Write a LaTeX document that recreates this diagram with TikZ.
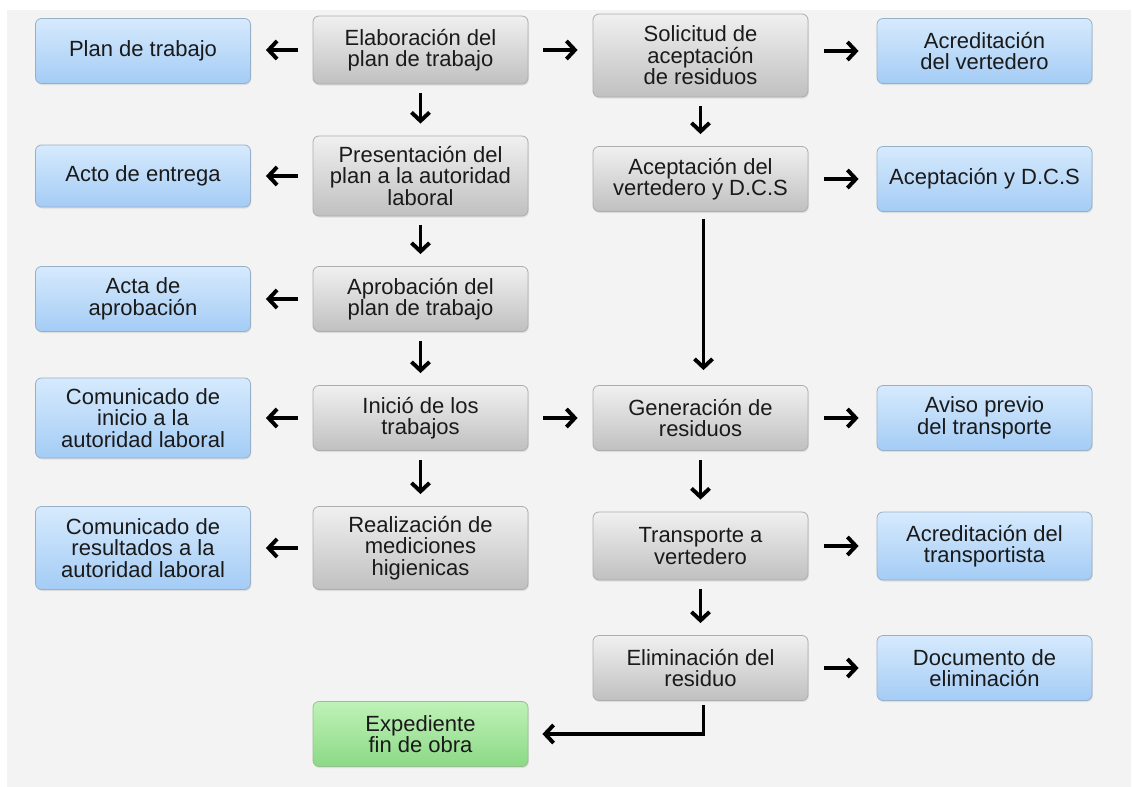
\documentclass[tikz,border=0pt]{standalone}
\usepackage{fontspec}
\setmainfont{Liberation Sans}
\usetikzlibrary{arrows.meta,shadows}
\definecolor{bgc}{HTML}{F3F3F3}
\definecolor{txt}{HTML}{1A1A1A}
\definecolor{bluetop}{HTML}{D6EAFD}
\definecolor{bluebot}{HTML}{A4CCF5}
\definecolor{bluedraw}{HTML}{98AFC8}
\definecolor{graytop}{HTML}{F0F0F0}
\definecolor{graybot}{HTML}{C0C0C0}
\definecolor{graydraw}{HTML}{ADADAD}
\definecolor{greentop}{HTML}{BFF2B8}
\definecolor{greenbot}{HTML}{8CD985}
\definecolor{greendraw}{HTML}{95C08F}
\begin{document}
\begin{tikzpicture}[x=1pt,y=-1pt,
  box/.style={rounded corners=6pt, minimum width=215pt, minimum height=65pt,
    inner sep=0pt, align=center, font=\fontsize{22}{21.5}\selectfont,
    text=txt, line width=0.8pt,
    drop shadow={opacity=0.18, shadow xshift=0.8pt, shadow yshift=-1.5pt}},
  bluebox/.style={box, draw=bluedraw, top color=bluetop, bottom color=bluebot},
  graybox/.style={box, draw=graydraw, top color=graytop, bottom color=graybot},
  greenbox/.style={box, draw=greendraw, top color=greentop, bottom color=greenbot},
  arr/.style={line width=3.9pt, -{Straight Barb[length=8.5pt,width=18pt]}},
  harr/.style={arr, shorten <=15pt, shorten >=15pt},
  varr/.style={arr, shorten <=9pt, shorten >=12pt}
]
\useasboundingbox (0,0) rectangle (1133,787);
\fill[white] (0,0) rectangle (1133,787);
\fill[bgc] (7,10) rectangle (1131,787);

% row 1
\node[bluebox] (plan) at (143,51) {Plan de trabajo};
\node[graybox, minimum height=68pt] (elab) at (420.5,50) {Elaboración del\\plan de trabajo};
\node[graybox, minimum height=83pt] (soli) at (700.5,55.5) {Solicitud de\\aceptación\\de residuos};
\node[bluebox] (acre) at (984.5,51) {Acreditación\\del vertedero};
% row 2
\node[bluebox, minimum height=62pt] (acto) at (143,176) {Acto de entrega};
\node[graybox, minimum height=80pt] (pres) at (420.5,176) {Presentación del\\plan a la autoridad\\laboral};
\node[graybox] (acev) at (700.5,179) {Aceptación del\\vertedero y D.C.S};
\node[bluebox] (acdcs) at (984.5,179) {Aceptación y D.C.S};
% row 3
\node[bluebox] (acta) at (143,299) {Acta de\\aprobación};
\node[graybox] (apro) at (420.5,299) {Aprobación del\\plan de trabajo};
% row 4
\node[bluebox, minimum height=80pt] (cini) at (143,418) {Comunicado de\\inicio a la\\autoridad laboral};
\node[graybox] (inic) at (420.5,418) {Inició de los\\trabajos};
\node[graybox] (gene) at (700.5,418) {Generación de\\residuos};
\node[bluebox] (avis) at (984.5,418) {Aviso previo\\del transporte};
% row 5
\node[bluebox, minimum height=83pt] (cres) at (143,548) {Comunicado de\\resultados a la\\autoridad laboral};
\node[graybox, minimum height=83pt] (real) at (420.5,548) {Realización de\\mediciones\\higienicas};
\node[graybox, minimum height=68pt] (tran) at (700.5,546) {Transporte a\\vertedero};
\node[bluebox, minimum height=68pt] (actr) at (984.5,546) {Acreditación del\\transportista};
% row 6
\node[graybox] (elim) at (700.5,668) {Eliminación del\\residuo};
\node[bluebox] (docu) at (984.5,668) {Documento de\\eliminación};
\node[greenbox] (expe) at (420.5,734) {Expediente\\fin de obra};

% horizontal arrows
\draw[harr] (elab.west) -- (elab.west -| plan.east);
\draw[harr] (elab.east) -- (elab.east -| soli.west);
\draw[harr, shorten <=16pt, shorten >=18pt] (acre.west -| soli.east) -- (acre.west);
\draw[harr] (pres.west |- acto.east) -- (acto.east);
\draw[harr, shorten <=16pt, shorten >=18pt] (acev.east) -- (acdcs.west);
\draw[harr] (apro.west) -- (acta.east);
\draw[harr] (inic.west) -- (cini.east);
\draw[harr] (inic.east) -- (gene.west);
\draw[harr, shorten <=16pt, shorten >=18pt] (gene.east) -- (avis.west);
\draw[harr] (real.west) -- (cres.east);
\draw[harr, shorten <=16pt, shorten >=18pt] (tran.east) -- (actr.west);
\draw[harr, shorten <=16pt, shorten >=18pt] (elim.east) -- (docu.west);

% vertical arrows
\draw[varr] (elab.south) -- (pres.north);
\draw[varr] (pres.south) -- (apro.north);
\draw[varr] (apro.south) -- (inic.north);
\draw[varr] (inic.south) -- (real.north);
\draw[varr] (soli.south) -- (acev.north);
\draw[varr, shorten <=7pt, shorten >=15pt] ([xshift=3pt]acev.south) -- ([xshift=3pt]gene.north);
\draw[varr] (gene.south) -- (tran.north);
\draw[varr] (tran.south) -- (elim.north);
\draw[arr, shorten <=4pt, shorten >=14pt] ([xshift=3pt]elim.south) |- (expe.east);
\end{tikzpicture}
\end{document}
